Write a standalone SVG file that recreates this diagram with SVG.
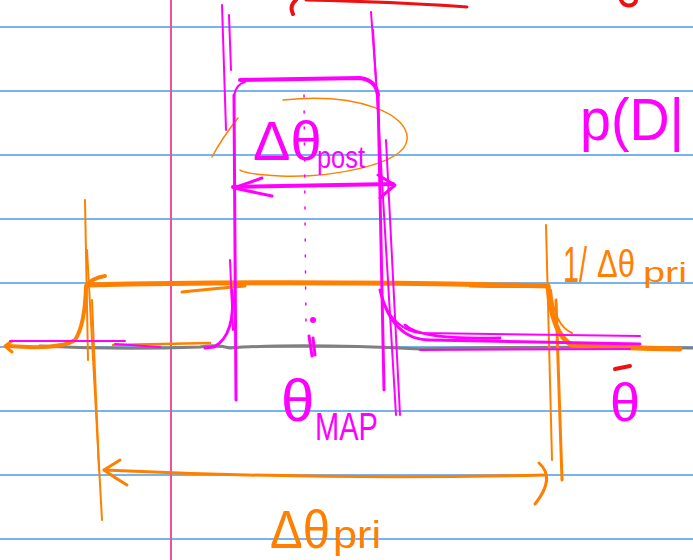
<svg xmlns="http://www.w3.org/2000/svg" width="693" height="560" viewBox="0 0 693 560">
<style>
.rule{stroke:#4a9ae8;stroke-width:1.5}
.margin{stroke:#f0509a;stroke-width:2}
path{fill:none;stroke-linecap:round;stroke-linejoin:round}
.mg{stroke:#ff00ff}
.or{stroke:#ff8000}
.rd{stroke:#ee1111}
.gy{stroke:#808080}
text{font-family:"Liberation Sans","DejaVu Sans",sans-serif}
.tm{fill:#ff00ff}
.to{fill:#ff8000}
</style>
<rect width="693" height="560" fill="#ffffff"/>
<g id="paper">
<line class="rule" x1="0" y1="27" x2="693" y2="27"/>
<line class="rule" x1="0" y1="91" x2="693" y2="91"/>
<line class="rule" x1="0" y1="155" x2="693" y2="155"/>
<line class="rule" x1="0" y1="219" x2="693" y2="219"/>
<line class="rule" x1="0" y1="283" x2="693" y2="283"/>
<line class="rule" x1="0" y1="347" x2="693" y2="347"/>
<line class="rule" x1="0" y1="411" x2="693" y2="411"/>
<line class="rule" x1="0" y1="475" x2="693" y2="475"/>
<line class="rule" x1="0" y1="539" x2="693" y2="539"/>
<line class="margin" x1="171" y1="0" x2="171" y2="560"/>
</g>
<g id="red-marks">
<path class="rd" stroke-width="4" d="M293 14 Q289 6 296 0"/>
<path class="rd" stroke-width="3" d="M306 0 Q400 2 467 7"/>
<path class="rd" stroke-width="4" d="M621 0 Q624 7 632 5 Q636 3 636 0"/>
</g>
<g id="axis">
<path class="gy" stroke-width="3" d="M40 346 Q120 350 200 347 Q215 344 230 348 Q300 343 420 349 Q550 346 693 348"/>
</g>
<g id="prior">
<path class="or" stroke-width="5" d="M88 285 Q300 280 548 286"/>
<path class="or" stroke-width="3" d="M182 292 Q210 289 245 286"/>
<path class="or" stroke-width="3" d="M470 286 Q510 287 548 286"/>
<path class="or" stroke-width="4" d="M8 346 Q60 350 75 340 Q85 325 86 286 Q92 278 105 276"/>
<path class="or" stroke-width="3" d="M12 341 L5 346 L12 352"/>
<path class="or" stroke-width="2.5" d="M113 345 L210 343"/>
<path class="or" stroke-width="2" d="M85 200 L88 360"/>
<path class="or" stroke-width="2" d="M87 250 L102 520"/>
<path class="or" stroke-width="2" d="M92 300 L99 470"/>
<path class="or" stroke-width="5" d="M548 286 Q552 335 572 345 Q620 348 680 349"/>
<path class="or" stroke-width="2" d="M551 290 Q554 325 572 333"/>
<path class="or" stroke-width="2" d="M546 225 L552 460"/>
<path class="or" stroke-width="3" d="M556 300 L562 480"/>
<path class="or" stroke-width="3" d="M104 470 Q320 480 545 475"/>
<path class="or" stroke-width="3" d="M120 460 L104 470 Q115 478 127 485"/>
<path class="or" stroke-width="3" d="M539 463 Q556 478 535 504"/>
<path class="or" stroke-width="1.5" d="M212 157 Q222 138 238 118"/>
<path class="or" stroke-width="1.5" d="M283 100 C360 92 410 115 407 140 C404 165 330 178 280 176 C255 175 242 172 240 170"/>
</g>
<g id="posterior">
<path class="mg" stroke-width="2" d="M222 5 L226 130"/>
<path class="mg" stroke-width="2" d="M229 15 L231 70"/>
<path class="mg" stroke-width="3" d="M234 95 L236 400"/>
<path class="mg" stroke-width="2" d="M230 260 L233 330"/>
<path class="mg" stroke-width="2" d="M371 12 L376 80"/>
<path class="mg" stroke-width="2" d="M373 30 L396 415"/>
<path class="mg" stroke-width="3" d="M378 95 L384 390"/>
<path class="mg" stroke-width="2" d="M386 140 L400 415"/>
<path class="mg" stroke-width="4" d="M240 80 L360 78 Q376 80 378 95"/>
<path class="mg" stroke-width="2" d="M234 96 Q236 84 245 82"/>
<path class="mg" stroke-width="4" d="M233 187 L393 184"/>
<path class="mg" stroke-width="3" d="M262 178 L234 188 L272 196"/>
<path class="mg" stroke-width="3" d="M378 175 L395 185 L380 198"/>
<path class="mg" stroke-width="3" d="M232 290 Q236 335 214 347 L205 348"/>
<path class="mg" stroke-width="2" d="M10 341 L125 341"/>
<path class="mg" stroke-width="2" d="M115 344 L160 347"/>
<path class="mg" stroke-width="3" d="M380 290 Q392 340 430 340 L640 344"/>
<path class="mg" stroke-width="2" d="M382 300 Q395 330 420 333 L640 336"/>
<path class="mg" stroke-width="3" d="M405 325 Q420 340 500 338"/>
<path class="mg" stroke-width="2" d="M420 350 L630 349"/>
<path class="mg" stroke-width="1.5" stroke-dasharray="2 14" d="M304 95 L306 330"/>
<circle cx="313" cy="320" r="3" fill="#ff00ff"/>
<path class="mg" stroke-width="3" d="M309 336 L312 356 M313 338 L315 355"/>
</g>
<g id="labels">
<text class="tm" x="253" y="160" font-size="56">Δθ<tspan x="317" y="168" font-size="32" textLength="48" lengthAdjust="spacingAndGlyphs">post</tspan></text>
<text class="tm" x="281" y="421" font-size="60">θ<tspan x="315" y="440" font-size="38" textLength="63" lengthAdjust="spacingAndGlyphs">MAP</tspan></text>
<text class="tm" x="580" y="140" font-size="60" textLength="104" lengthAdjust="spacingAndGlyphs">p(D|</text>
<text class="to" x="563" y="282" font-size="50"><tspan textLength="24" lengthAdjust="spacingAndGlyphs">1/</tspan><tspan x="597" y="277" font-size="38" textLength="38" lengthAdjust="spacingAndGlyphs">Δθ</tspan><tspan x="643" y="282" font-size="28" textLength="44" lengthAdjust="spacingAndGlyphs">pri</tspan></text>
<text class="tm" x="610" y="421" font-size="54">θ</text>
<path class="rd" stroke-width="4" d="M615 369 L630 366"/>
<text class="to" x="270" y="548" font-size="54"><tspan textLength="60" lengthAdjust="spacingAndGlyphs">Δθ</tspan><tspan x="333" y="548" font-size="38" textLength="48" lengthAdjust="spacingAndGlyphs">pri</tspan></text>
</g>
</svg>
